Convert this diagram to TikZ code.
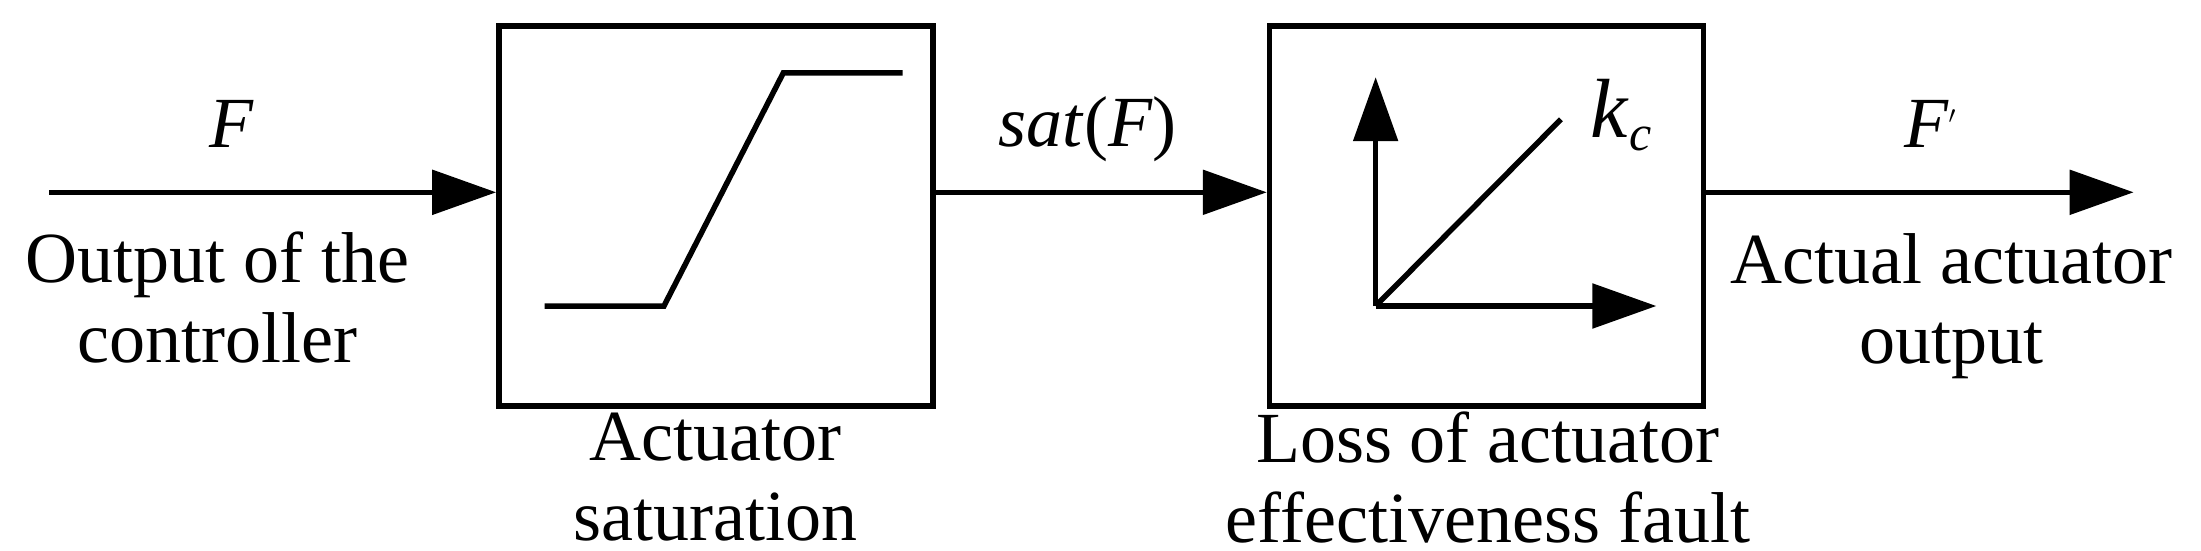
\documentclass[tikz,border=0pt]{standalone}
\usepackage{fontspec}
\setmainfont{Liberation Serif}
\usetikzlibrary{arrows.meta}
\begin{document}
\begin{tikzpicture}[x=1.404pt,y=-1.404pt,
  ln/.style={line width=5.5pt},
  ar/.style={ln,-{Triangle[length=64pt,width=44pt]}},
  blk/.style={draw,line width=5.5pt,minimum width=434pt,minimum height=380pt,inner sep=0},
  txt/.style={font=\fontsize{72}{80}\selectfont,align=center,inner sep=0}]
\useasboundingbox (0,0) rectangle (1568,392.5);
\node[blk] (b1) at (510,154) {};
\node[blk] (b2) at (1059,154) {};
\coordinate (in) at (35,137);
\coordinate (out) at (1520,137);
\draw[ar] (in) -- (b1.west|-in);
\draw[ar] (b1.east|-in) -- (b2.west|-in);
\draw[ar] (b2.east|-in) -- (out);
\node[txt] (lF) at (165,88) {\textit{F}};
\node[txt] (lsat) at (775,92) {\textit{sat}(\textit{F})};
\node[txt] (lFp) at (1375,88) {\textit{F}\raisebox{.45ex}{\fontsize{40}{40}\selectfont$'$}};
\node[txt] (t1) at (155,212) {Output of the\\controller};
\node[txt] (t2) at (510,340) {Actuator\\saturation};
\node[txt] (t3) at (1060,340) {Loss of actuator\\effectiveness fault};
\node[txt] (t4) at (1390,218) {Actual actuator\\output};
\draw[ln] (388,218)--(473,218)--(558,52)--(643,52);
\coordinate (o) at (980,218);
\coordinate (ay) at (980,55);
\coordinate (ax) at (1180,218);
\draw[ar] (o) -- (ay);
\draw[ar] (o) -- (ax);
\draw[ln] (o) -- (1112,85);
\node[txt,font=\fontsize{84}{84}\selectfont] (kc) at (1155,82) {\textit{k}\raisebox{-.35ex}{\fontsize{50}{50}\selectfont\textit{c}}};
\end{tikzpicture}
\end{document}
